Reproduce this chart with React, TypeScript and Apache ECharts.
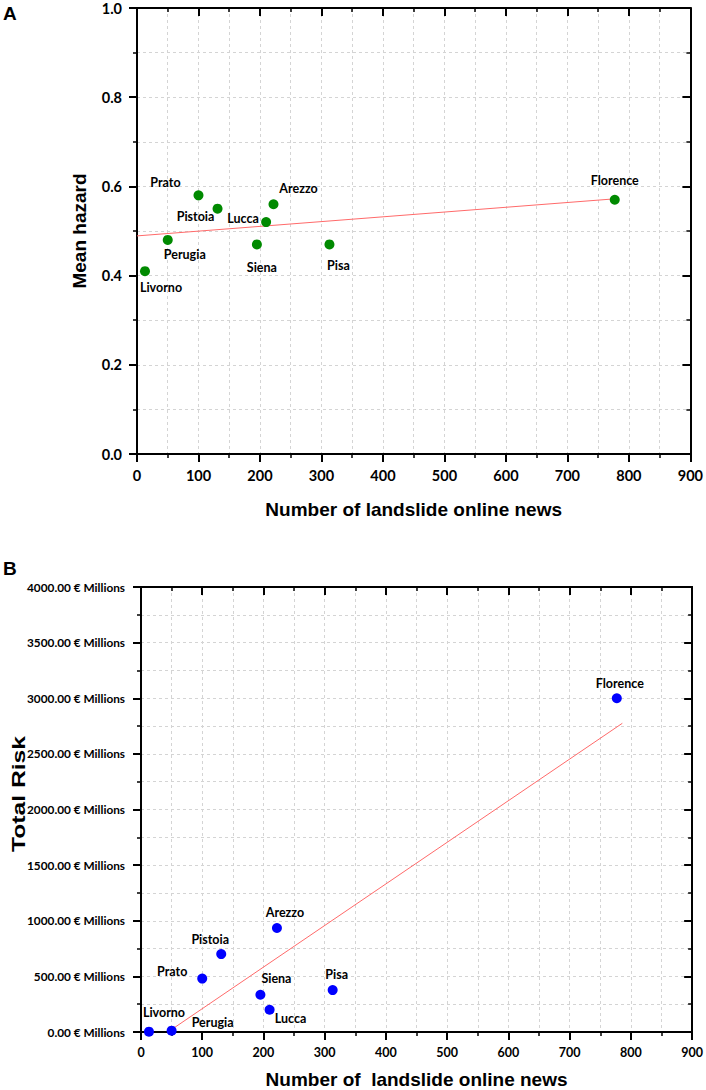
import React, { useEffect, useRef } from "react";
import * as echarts from "echarts";

const cities = ["Livorno", "Perugia", "Prato", "Pistoia", "Siena", "Lucca", "Arezzo", "Pisa", "Florence"];
const newsCount = [13, 50, 100, 131, 195, 210, 222, 313, 777];
const meanHazard = [0.41, 0.48, 0.58, 0.55, 0.47, 0.52, 0.56, 0.47, 0.57];
const totalRisk = [3, 12, 480, 700, 335, 200, 935, 377, 3000];

const hazardTrendX = [0, 776];
const hazardTrendY = [0.489, 0.572];
const riskTrendX = [44, 786];
const riskTrendY = [0, 2775];

const xTicks = { min: 0, max: 900, interval: 100 };
const hazardTicks = { min: 0, max: 1, interval: 0.2 };
const riskTicks = { min: 0, max: 4000, interval: 500 };

// label placement (layout only): offset of each city label from its point
const hazardLabelOffsets: Record<string, number[]> = {
  Livorno: [16, 16], Perugia: [17, 15], Prato: [-33, -13], Pistoia: [-22, 8], Siena: [5, 23],
  Lucca: [-23, -4], Arezzo: [25, -16], Pisa: [9, 21], Florence: [0, -19],
};
const riskLabelOffsets: Record<string, number[]> = {
  Livorno: [15, -19], Perugia: [41, -8], Prato: [-30, -7], Pistoia: [-11, -15], Siena: [16, -16],
  Lucca: [21, 9], Arezzo: [8, -15], Pisa: [4, -16], Florence: [3, -15],
};

const TICK_FONT = "Lato";
const TITLE_FONT = "Liberation Sans";
const GRID_LINE = { color: "#d4d4d4", type: [3, 3] as any, width: 1 };
const AXIS_LINE = { show: true, onZero: false, lineStyle: { color: "#000", width: 2 } };

function mainX(gridIndex: number, fontSize: number, name: string, nameGap: number) {
  return {
    type: "value", gridIndex, position: "bottom", ...xTicks,
    axisLine: AXIS_LINE,
    axisTick: { show: true, inside: false, length: 8, lineStyle: { color: "#000", width: 2 } },
    minorTick: { show: true, splitNumber: 2, length: 4, lineStyle: { color: "#000", width: 1.5 } },
    splitLine: { show: true, lineStyle: GRID_LINE },
    minorSplitLine: { show: true, lineStyle: GRID_LINE },
    axisLabel: { show: true, margin: 14, color: "#000", fontFamily: TICK_FONT, fontWeight: "bold", fontSize },
    name, nameLocation: "middle", nameGap,
    nameTextStyle: { fontFamily: TITLE_FONT, fontWeight: "bold", fontSize: 19, color: "#000" },
  };
}
function mirrorX(gridIndex: number) {
  return {
    type: "value", gridIndex, position: "top", ...xTicks,
    axisLine: AXIS_LINE,
    axisTick: { show: true, inside: true, length: 8, lineStyle: { color: "#000", width: 2 } },
    minorTick: { show: true, splitNumber: 2, length: 4, lineStyle: { color: "#000", width: 1.5 } },
    splitLine: { show: false }, axisLabel: { show: false },
  };
}
function mainY(gridIndex: number, ticks: any, fontSize: number, margin: number, formatter: (v: number) => string, name: string, nameGap: number) {
  return {
    type: "value", gridIndex, position: "left", ...ticks,
    axisLine: AXIS_LINE,
    axisTick: { show: true, inside: false, length: 8, lineStyle: { color: "#000", width: 2 } },
    minorTick: { show: true, splitNumber: 2, length: 4, lineStyle: { color: "#000", width: 1.5 } },
    splitLine: { show: true, lineStyle: GRID_LINE },
    minorSplitLine: { show: true, lineStyle: GRID_LINE },
    axisLabel: { show: true, margin, color: "#000", fontFamily: TICK_FONT, fontWeight: "bold", fontSize, formatter },
    name, nameLocation: "middle", nameGap,
    nameTextStyle: { fontFamily: TITLE_FONT, fontWeight: "bold", fontSize: 19, color: "#000" },
  };
}
function mirrorY(gridIndex: number, ticks: any) {
  return {
    type: "value", gridIndex, position: "right", ...ticks,
    axisLine: AXIS_LINE,
    axisTick: { show: true, inside: true, length: 8, lineStyle: { color: "#000", width: 2 } },
    minorTick: { show: true, splitNumber: 2, length: 4, lineStyle: { color: "#000", width: 1.5 } },
    splitLine: { show: false }, axisLabel: { show: false },
  };
}

function pointData(ys: number[], offsets: Record<string, number[]>) {
  return cities.map((c, i) => ({
    name: c,
    value: [newsCount[i], ys[i]],
    label: { offset: offsets[c] },
  }));
}

const LABEL = {
  show: true, position: "inside", formatter: "{b}", color: "#000",
  fontFamily: TICK_FONT, fontWeight: "bold", fontSize: 12.5,
};

export default function App() {
  const ref = useRef<HTMLDivElement>(null);
  useEffect(() => {
    document.body.style.margin = "0";
    const chart = echarts.init(ref.current!, undefined, { renderer: "svg" });
    chart.setOption({
      animation: false,
      backgroundColor: "#fff",
      grid: [
        { left: 137, top: 8, width: 555, height: 446 },
        { left: 141, top: 587, width: 553, height: 445 },
      ],
      xAxis: [
        mainX(0, 14.5, "Number of landslide online news", 46),
        mirrorX(0),
        mainX(1, 12.5, "Number of  landslide online news", 38),
        mirrorX(1),
      ],
      yAxis: [
        mainY(0, hazardTicks, 14.5, 15, (v: number) => v.toFixed(1), "Mean hazard", 48),
        mirrorY(0, hazardTicks),
        mainY(1, riskTicks, 11.8, 16, (v: number) => v.toFixed(2) + " € Millions", "", 0),
        mirrorY(1, riskTicks),
      ],
      graphic: [
        { type: "text", left: 3, top: 4, style: { text: "A", font: `bold 19px "${TITLE_FONT}"`, fill: "#000" } },
        { type: "text", left: 3, top: 559, style: { text: "B", font: `bold 19px "${TITLE_FONT}"`, fill: "#000" } },
        {
          type: "text", x: 19, y: 794, rotation: Math.PI / 2, scaleX: 1.3,
          style: { text: "Total Risk", font: `bold 19px "${TITLE_FONT}"`, fill: "#000", align: "center", verticalAlign: "middle" },
        },
      ],
      series: [
        {
          type: "line", xAxisIndex: 0, yAxisIndex: 0, symbol: "none", silent: true, z: 2,
          data: hazardTrendX.map((x, i) => [x, hazardTrendY[i]]),
          lineStyle: { color: "#ff6a6a", width: 1 },
        },
        {
          type: "scatter", xAxisIndex: 0, yAxisIndex: 0, symbolSize: 10, z: 3,
          itemStyle: { color: "#008a00", opacity: 1 },
          label: LABEL,
          data: pointData(meanHazard, hazardLabelOffsets),
        },
        {
          type: "line", xAxisIndex: 2, yAxisIndex: 2, symbol: "none", silent: true, z: 2,
          data: riskTrendX.map((x, i) => [x, riskTrendY[i]]),
          lineStyle: { color: "#ff6a6a", width: 1 },
        },
        {
          type: "scatter", xAxisIndex: 2, yAxisIndex: 2, symbolSize: 10, z: 3,
          itemStyle: { color: "#0000ff", opacity: 1 },
          label: LABEL,
          data: pointData(totalRisk, riskLabelOffsets),
        },
      ],
    });
    return () => chart.dispose();
  }, []);
  return <div ref={ref} style={{ width: 706, height: 1090 }} />;
}
